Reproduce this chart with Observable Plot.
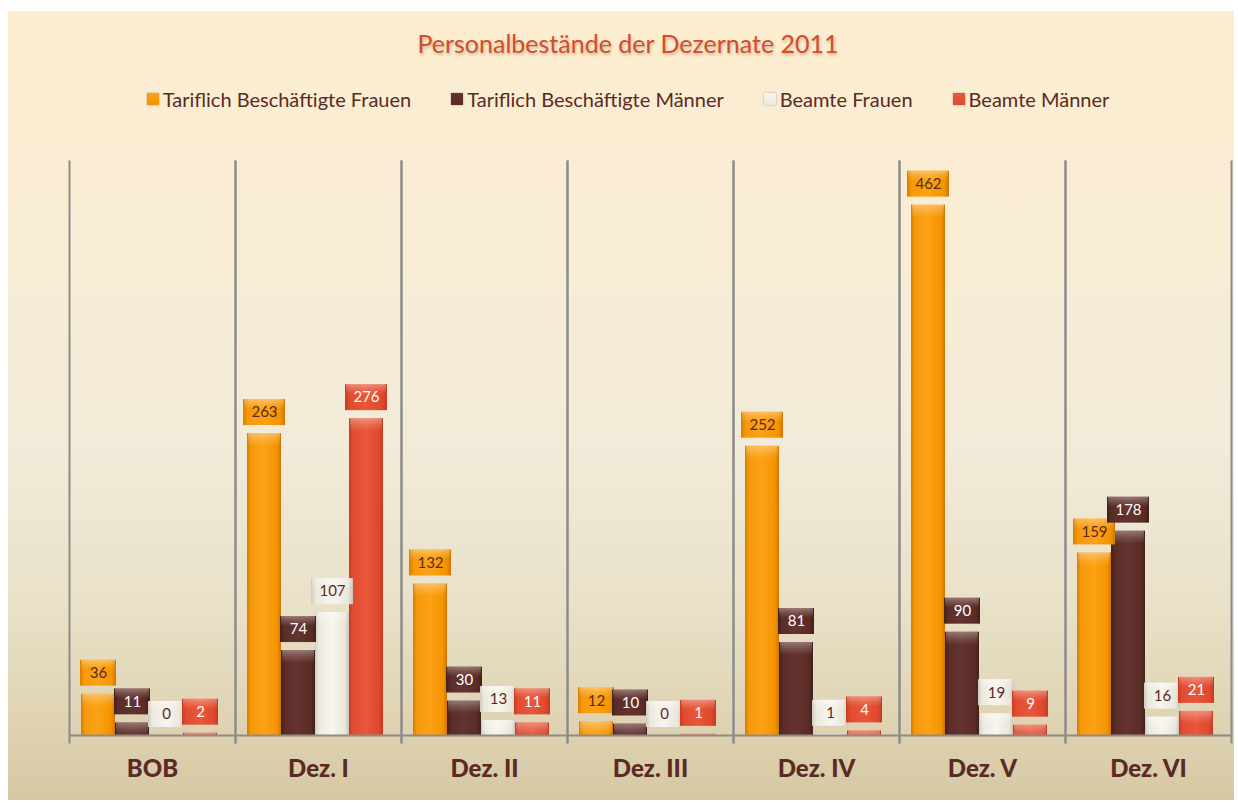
<!DOCTYPE html>
<html><head><meta charset="utf-8">
<script src="https://cdn.jsdelivr.net/npm/d3@7"></script>
<script src="https://cdn.jsdelivr.net/npm/@observablehq/plot@0.6"></script>
<style>
body{margin:0;background:#fff;font-family:Lato,"Open Sans",sans-serif;}
#bg{position:absolute;left:8px;top:11px;width:1226px;height:789px;
 background:linear-gradient(to bottom,#FDEDD0 0%,#F9EDD5 30%,#F1EBD9 55%,#E9E1C8 75%,#DFD3B3 90%,#D6C8A3 100%);}
#title{position:absolute;left:0;top:28px;width:1256px;text-align:center;font-size:25px;color:#D64B2C;
 text-shadow:1px 2px 3px rgba(110,80,40,.35);}
#legend{position:absolute;left:0;top:87px;width:1256px;display:flex;justify-content:center;gap:40px;font-size:20px;color:#5a2a24;}
.item{display:flex;align-items:center;}
.sw{width:12px;height:12px;margin-right:4px;box-shadow:0 0 2px rgba(0,0,0,.3);}
#chart{position:absolute;left:0;top:130px;}
</style></head>
<body>
<div id="bg"></div>
<div id="title">Personalbestände der Dezernate 2011</div>
<div id="legend"></div>
<div id="chart"></div>
<script>
const categories = ["BOB","Dez. I","Dez. II","Dez. III","Dez. IV","Dez. V","Dez. VI"];
const series = ["Tariflich Beschäftigte Frauen","Tariflich Beschäftigte Männer","Beamte Frauen","Beamte Männer"];
const tarifFrauen  = [36,263,132,12,252,462,159];
const tarifMaenner = [11,74,30,10,81,90,178];
const beamteFrauen = [0,107,13,0,1,19,16];
const beamteMaenner= [2,276,11,1,4,9,21];
const seriesValues = [tarifFrauen,tarifMaenner,beamteFrauen,beamteMaenner];

const baseColors = ["#F39000","#5A2B25","#ECE9DC","#E0492E"];
const textColors = ["#5a2a24","#ffffff","#5a2a24","#ffffff"];
const gradStops = [
  ["#D97D00","#F79A0A","#FBA216","#F59400","#D07600"],
  ["#43201B","#5C2D27","#643330","#5A2B25","#40201B"],
  ["#CFCCBE","#ECEADF","#F7F5EE","#E9E6DA","#C9C6B8"],
  ["#C83C24","#E24C30","#E8573A","#DF482D","#C23A22"]
];

const rows = series.map((s,j)=>categories.map((c,i)=>({cat:c, series:s, value:seriesValues[j][i]})));

// legend
const leg = document.getElementById("legend");
series.forEach((s,j)=>{
  const it=document.createElement("div");it.className="item";
  const sw=document.createElement("div");sw.className="sw";
  sw.style.background=`linear-gradient(to bottom, ${gradStops[j][2]}, ${baseColors[j]})`;
  const t=document.createElement("span");t.textContent=s;
  it.append(sw,t);leg.append(it);
});

const marks = [
  Plot.frame({anchor:"left", stroke:"#8c8c8c", strokeWidth:2, insetBottom:-7}),
  Plot.frame({anchor:"right", stroke:"#8c8c8c", strokeWidth:2, insetBottom:-7}),
];
series.forEach((s,j)=>{
  marks.push(Plot.barY(rows[j],{fx:"cat",x:"series",y:"value",fill:`url(#g${j})`,ariaLabel:"bar-shadow"}));
  marks.push(Plot.barY(rows[j],{fx:"cat",x:"series",y1:"value",y2:"value",insetBottom:-13,insetLeft:1,insetRight:1,
    fill:"url(#bevel)",clip:true}));
});
marks.push(Plot.ruleY([0],{stroke:"#8c8c8c",strokeWidth:2}));
series.forEach((s,j)=>{
  marks.push(Plot.barY(rows[j],{fx:"cat",x:"series",y1:"value",y2:"value",filter:d=>d.value<100,
    fill:`url(#g${j})`,insetTop:-34,insetBottom:8,insetLeft:-1,insetRight:-1,ariaLabel:"labelbox"}));
  marks.push(Plot.barY(rows[j],{fx:"cat",x:"series",y1:"value",y2:"value",filter:d=>d.value>=100,
    fill:`url(#g${j})`,insetTop:-34,insetBottom:8,insetLeft:-4,insetRight:-4,ariaLabel:"labelbox"}));
  marks.push(Plot.barY(rows[j],{fx:"cat",x:"series",y1:"value",y2:"value",filter:d=>d.value<100,
    fill:"url(#bevel)",insetTop:-34,insetBottom:24,insetLeft:0,insetRight:0}));
  marks.push(Plot.barY(rows[j],{fx:"cat",x:"series",y1:"value",y2:"value",filter:d=>d.value>=100,
    fill:"url(#bevel)",insetTop:-34,insetBottom:24,insetLeft:-3,insetRight:-3}));
  marks.push(Plot.text(rows[j],{fx:"cat",x:"series",y:"value",text:d=>String(d.value),dy:-21,
    fill:textColors[j],fontSize:15}));
});
marks.push(Plot.axisFx({anchor:"bottom",tickSize:0,tickPadding:24,fontSize:24,fontWeight:900,fill:"#5a2a24",label:null,ariaLabel:"cat-axis"}));

const chart = Plot.plot({
  width:1238, height:670,
  marginLeft:69, marginRight:7, marginTop:31, marginBottom:65,
  style:{background:"transparent",fontFamily:"Lato, 'Open Sans', sans-serif",overflow:"visible"},
  fx:{domain:categories,paddingInner:0,paddingOuter:0,axis:null},
  x:{domain:series,paddingInner:0,paddingOuter:0.4,align:0.4,axis:null},
  y:{domain:[0,500],axis:null},
  marks
});
document.getElementById("chart").append(chart);

const svg = d3.select(chart);
const defs = svg.insert("defs",":first-child");
gradStops.forEach((st,j)=>{
  const g = defs.append("linearGradient").attr("id",`g${j}`).attr("x1",0).attr("x2",1).attr("y1",0).attr("y2",0);
  const offs=[0,0.12,0.5,0.88,1];
  st.forEach((c,k)=>g.append("stop").attr("offset",offs[k]).attr("stop-color",c));
});
const bv = defs.append("linearGradient").attr("id","bevel").attr("x1",0).attr("x2",0).attr("y1",0).attr("y2",1);
bv.append("stop").attr("offset",0).attr("stop-color","#fff").attr("stop-opacity",0.35);
bv.append("stop").attr("offset",0.5).attr("stop-color","#fff").attr("stop-opacity",0.15);
bv.append("stop").attr("offset",1).attr("stop-color","#fff").attr("stop-opacity",0);
const f = defs.append("filter").attr("id","shadow").attr("x","-20%").attr("y","-20%").attr("width","150%").attr("height","150%");
f.append("feDropShadow").attr("dx",1.5).attr("dy",2).attr("stdDeviation",1.5).attr("flood-color","#4a3a20").attr("flood-opacity",0.35);
const f2 = defs.append("filter").attr("id","tshadow").attr("x","-10%").attr("y","-30%").attr("width","130%").attr("height","170%");
f2.append("feDropShadow").attr("dx",2).attr("dy",3).attr("stdDeviation",1.5).attr("flood-color","#6b5530").attr("flood-opacity",0.45);
svg.selectAll('g[aria-label="labelbox"], g[aria-label="bar-shadow"]').attr("filter","url(#shadow)");
svg.selectAll('g[aria-label="cat-axis"]').attr("filter","url(#tshadow)");
</script>
</body></html>
